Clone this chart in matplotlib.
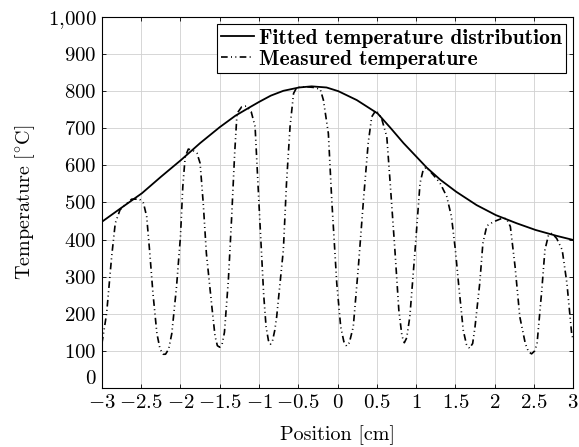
import matplotlib
matplotlib.use("Agg")
import matplotlib.pyplot as plt

plt.rcParams['font.family'] = 'cmr10'
plt.rcParams['mathtext.fontset'] = 'cm'
plt.rcParams['axes.unicode_minus'] = False

# fitted curve
fit_x = [-3.0, -2.75, -2.49, -2.25, -1.99, -1.75, -1.5, -1.3, -1.115, -1.0,
         -0.85, -0.69, -0.49, -0.33, -0.14, 0.01, 0.245, 0.51, 0.67, 0.84,
         1.01, 1.135, 1.31, 1.51, 1.77, 2.015, 2.28, 2.52, 2.79, 3.0]
fit_y = [448, 486, 525, 569, 615, 660, 703, 734, 757, 771,
         788, 801, 810, 813, 810, 800, 776, 740, 702, 660,
         622, 594, 561, 529, 493, 466, 444, 426, 410, 399]

# measured temperature
meas_x = [-3.0, -2.97, -2.94, -2.876, -2.83, -2.77, -2.71, -2.62, -2.52, -2.47,
          -2.43, -2.39, -2.35, -2.30, -2.26, -2.22, -2.19, -2.15, -2.11, -2.05,
          -2.0, -1.97, -1.94, -1.90, -1.84, -1.79, -1.75, -1.71, -1.67, -1.60,
          -1.56, -1.53, -1.50, -1.47, -1.44, -1.39, -1.35, -1.31, -1.28, -1.22,
          -1.16, -1.10, -1.05, -0.99, -0.94, -0.91, -0.88, -0.855, -0.83, -0.80,
          -0.775, -0.69, -0.65, -0.605, -0.56, -0.52, -0.40, -0.30, -0.22, -0.18,
          -0.117, -0.074, -0.01, 0.04, 0.08, 0.115, 0.15, 0.20, 0.265, 0.33,
          0.39, 0.435, 0.49, 0.56, 0.627, 0.67, 0.73, 0.78, 0.82, 0.85,
          0.88, 0.92, 0.987, 1.05, 1.09, 1.13, 1.22, 1.306, 1.39, 1.45,
          1.50, 1.54, 1.60, 1.64, 1.68, 1.72, 1.75, 1.81, 1.85, 1.90,
          1.985, 2.09, 2.15, 2.20, 2.26, 2.32, 2.39, 2.43, 2.47, 2.51,
          2.54, 2.60, 2.64, 2.685, 2.73, 2.79, 2.86, 2.92, 2.98, 3.0]
meas_y = [120, 160, 201, 354, 444, 480, 493, 509, 509, 498,
          462, 363, 255, 147, 105, 91, 91, 105, 147, 273,
          408, 543, 623, 644, 640, 633, 606, 498, 363, 219,
          140, 114, 110, 118, 150, 291, 453, 632, 740, 758,
          760, 745, 705, 453, 250, 165, 128, 118, 125, 155,
          192, 372, 552, 704, 794, 810, 812, 810, 805, 776,
          686, 507, 282, 165, 125, 113, 122, 165, 327, 507,
          660, 731, 749, 727, 677, 552, 372, 210, 140, 122,
          135, 192, 372, 552, 588, 595, 574, 552, 516, 462,
          372, 282, 156, 118, 107, 120, 165, 282, 390, 437,
          448, 457, 457, 435, 327, 192, 120, 98, 92, 100,
          120, 264, 372, 412, 417, 403, 372, 282, 147, 130]

x_ticks = [-3, -2.5, -2, -1.5, -1, -0.5, 0, 0.5, 1, 1.5, 2, 2.5, 3]
x_labels = ['$-3$', '$-2.5$', '$-2$', '$-1.5$', '$-1$', '$-0.5$', '$0$',
            '$0.5$', '$1$', '$1.5$', '$2$', '$2.5$', '$3$']
y_ticks = [0, 100, 200, 300, 400, 500, 600, 700, 800, 900, 1000]
y_labels = ['$0$', '$100$', '$200$', '$300$', '$400$', '$500$', '$600$',
            '$700$', '$800$', '$900$', '$1{,}000$']

fig = plt.figure(figsize=(5.79, 4.47), dpi=100)
ax = fig.add_axes([0.176, 0.132, 0.814, 0.830])

ax.plot(fit_x, fit_y, color='black', lw=1.3, label='Fitted temperature distribution')
ax.plot(meas_x, meas_y, color='black', lw=1.2,
        linestyle=(0, (4, 2, 0.6, 2, 0.6, 2)), label='Measured temperature')

ax.set_xlim(-3, 3)
ax.set_ylim(0, 1000)
ax.set_xticks(x_ticks)
ax.set_xticklabels(x_labels, fontsize=15)
ax.set_yticks(y_ticks)
ax.set_yticklabels(y_labels, fontsize=15)
ax.tick_params(direction='in', length=3, width=0.6, top=True, right=True)
ax.tick_params(axis='x', pad=4)
ax.tick_params(axis='y', pad=4)
# nudge the y "0" label up a little so it clears the "-3" below it
ax.get_yticklabels()[0].set_verticalalignment('bottom')
ax.grid(True, color='#d0d0d0', lw=0.6)
ax.set_axisbelow(True)
for s in ax.spines.values():
    s.set_linewidth(0.8)

ax.set_xlabel('Position [cm]', fontsize=14.5, labelpad=10)
ax.set_ylabel(r'Temperature [$^{\circ}$C]', fontsize=14.5, labelpad=8)

leg = ax.legend(loc='upper right', bbox_to_anchor=(0.985, 0.98),
                prop={'family': 'cmb10', 'size': 15.5},
                fancybox=False, framealpha=1, edgecolor='black',
                handlelength=1.5, handletextpad=0.25, borderpad=0.2,
                labelspacing=0.1, borderaxespad=0)
leg.get_frame().set_linewidth(0.8)

fig.savefig('out.png', dpi=100)
